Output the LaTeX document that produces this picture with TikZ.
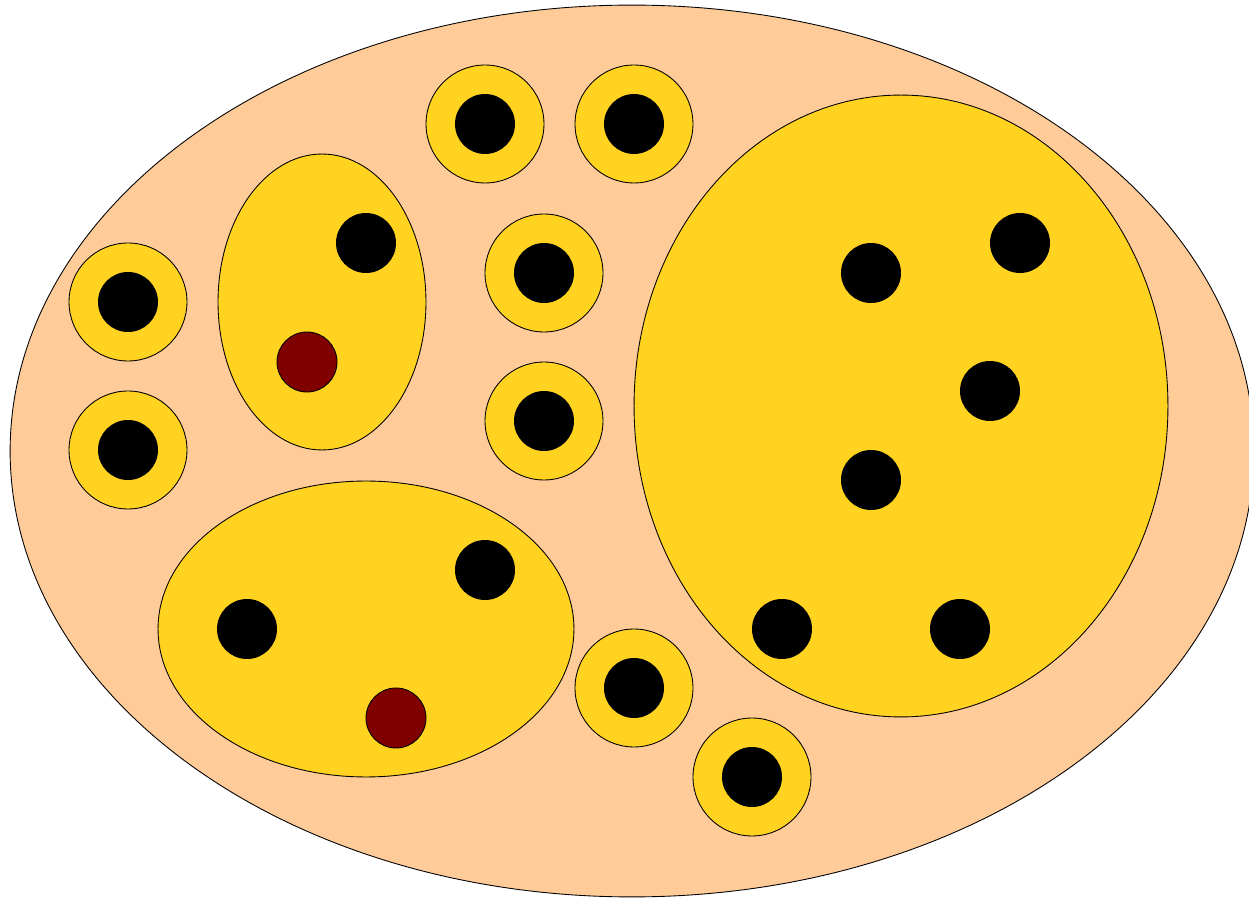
\documentclass[tikz,border=0pt]{standalone}
\usepackage{xcolor}
\usepackage{tikz}
\definecolor{peach}{HTML}{FFCC99}
\definecolor{sun}{HTML}{FFD320}
\definecolor{maroon}{HTML}{800000}
\begin{document}
\begin{tikzpicture}[
  x=0.02cm, y=-0.02cm,
  line width=0.5pt,
  outer/.style={draw=black, fill=peach},
  blob/.style={draw=black, fill=sun},
  dot/.style={fill=black},
  reddot/.style={draw=black, fill=maroon},
]
\useasboundingbox (0,0) rectangle (1249,898);
\clip (0,0) rectangle (1249,898);
% whole set
\draw[outer] (632,451) ellipse[x radius=12.44cm, y radius=8.92cm];
% single rings
\foreach \cx/\cy in {485/124, 634/124, 544/273, 544/421, 128/302, 128/450, 634/688, 752/777} {
  \draw[blob] (\cx,\cy) circle[radius=1.18cm];
  \fill[dot] (\cx,\cy) circle[radius=0.6cm];
}
% left group
\draw[blob] (322,302) ellipse[x radius=2.08cm, y radius=2.96cm];
\fill[dot] (366,243) circle[radius=0.6cm];
\draw[reddot] (307,362) circle[radius=0.6cm];
% lower group
\draw[blob] (366,629) ellipse[x radius=4.16cm, y radius=2.96cm];
\fill[dot] (247,629) circle[radius=0.6cm];
\fill[dot] (485,570) circle[radius=0.6cm];
\draw[reddot] (396,718) circle[radius=0.6cm];
% large group
\draw[blob] (901,406) ellipse[x radius=5.34cm, y radius=6.22cm];
\foreach \cx/\cy in {871/273, 1020/243, 990/391, 871/480, 782/629, 960/629}
  \fill[dot] (\cx,\cy) circle[radius=0.6cm];
\end{tikzpicture}
\end{document}
